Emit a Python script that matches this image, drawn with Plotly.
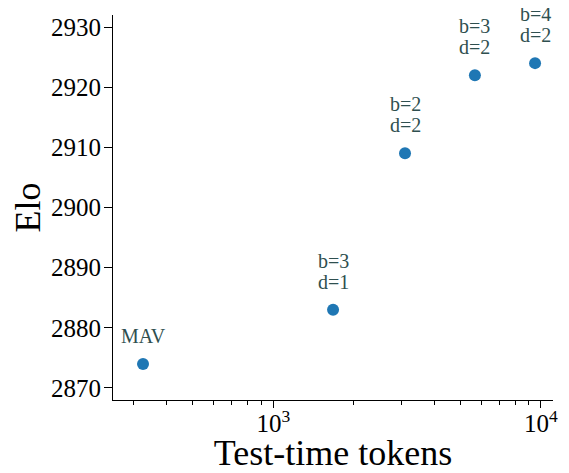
import math
import plotly.graph_objects as go

tokens = [326, 1672, 3105, 5665, 9505]
elo = [2874, 2883, 2909, 2922, 2924]
labels = ["MAV", "b=3\nd=1", "b=2\nd=2", "b=3\nd=2", "b=4\nd=2"]

y_ticks = [2870, 2880, 2890, 2900, 2910, 2920, 2930]
x_ticks = [1000, 10000]
x_ticktext = ["10<sup>3</sup>", "10<sup>4</sup>"]
x_minor = [300, 400, 500, 600, 700, 800, 900, 2000, 3000, 4000, 5000, 6000, 7000, 8000, 9000]

FONT = "Liberation Serif, DejaVu Serif, serif"

fig = go.Figure()
fig.add_trace(go.Scatter(
    x=tokens, y=elo, mode="markers",
    marker=dict(size=12, color="#1f77b4"),
    showlegend=False,
))

for x, y, t in zip(tokens, elo, labels):
    lines = t.split("\n")
    for i, line in enumerate(reversed(lines)):
        fig.add_annotation(
            x=math.log10(x), y=y, xref="x", yref="y", text=line, showarrow=False,
            yanchor="bottom", yshift=15 + 21 * i, xanchor="center",
            font=dict(family=FONT, size=20, color="#2F4F4F"),
        )

# the page body has an 8px default margin, so the figure is shifted by 8px
fig.update_layout(
    width=561, height=465,
    margin=dict(l=105, r=16, t=7, b=73),
    paper_bgcolor="white", plot_bgcolor="white",
    font=dict(family=FONT, color="black"),
    xaxis=dict(
        type="log", range=[2.401, 4.045], automargin=False,
        tickvals=x_ticks, ticktext=x_ticktext,
        ticks="outside", ticklen=7, tickwidth=1, tickcolor="black",
        showline=True, linecolor="black", linewidth=1,
        showgrid=False, zeroline=False,
        tickfont=dict(family=FONT, size=25),
        ticklabelstandoff=-6,
        minor=dict(tickvals=x_minor, ticks="outside", ticklen=4, tickwidth=1,
                   tickcolor="black", showgrid=False),
        title=dict(text="Test-time tokens", font=dict(family=FONT, size=36), standoff=8),
    ),
    yaxis=dict(
        range=[2868, 2932], automargin=False,
        tickvals=y_ticks,
        ticks="outside", ticklen=8, tickwidth=1, tickcolor="black",
        showline=True, linecolor="black", linewidth=1,
        showgrid=False, zeroline=False,
        tickfont=dict(family=FONT, size=25),
        ticklabelstandoff=-2,
        title=dict(text="Elo", font=dict(family=FONT, size=36), standoff=10),
    ),
)

fig.write_html("out.html")
